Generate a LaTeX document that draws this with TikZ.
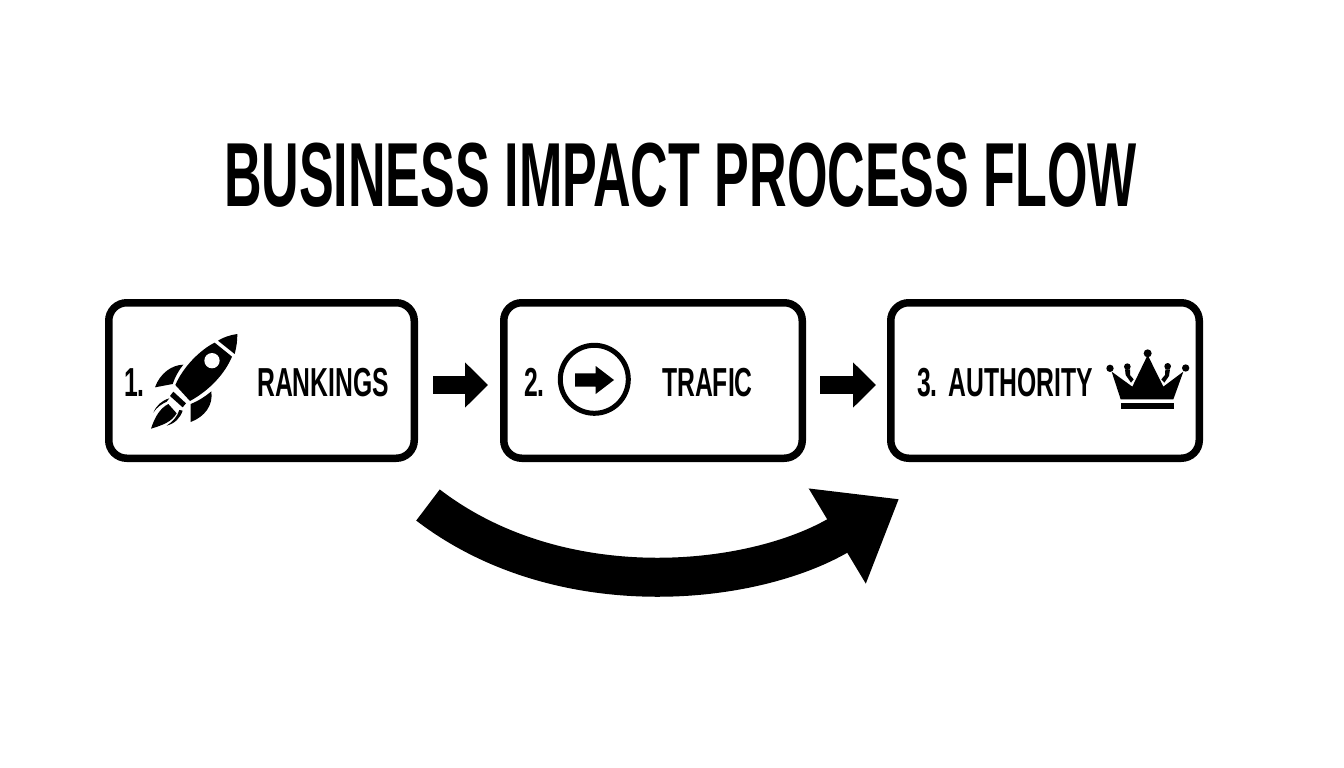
\documentclass[tikz,border=0pt]{standalone}
\usepackage{fontspec}
\usetikzlibrary{arrows.meta}
\newfontfamily\titrefont[FakeStretch=0.572]{Liberation Sans}
\newfontfamily\boitefont[FakeStretch=0.61]{Liberation Sans}
\tikzset{
  boite/.style={draw, line width=7.5pt, rounded corners=18pt, minimum height=155.5pt, inner sep=0pt},
  fleche/.style={line width=18pt, -{Triangle[length=23pt,width=44pt]}},
  etiquette/.style={anchor=base west, inner sep=0pt, font=\boitefont\bfseries\fontsize{40.5}{40.5}\selectfont},
}
\begin{document}
\begin{tikzpicture}[x=1pt,y=-1pt]
      \useasboundingbox (0,0) rectangle (1344,768);

      \node[anchor=base, inner sep=0pt, font=\titrefont\bfseries\fontsize{91}{91}\selectfont] (titre) at (680.5,206) {BUSINESS IMPACT PROCESS FLOW};

      %boites
      \node[boite, minimum width=305.5pt] (rankings) at (261.5,380.5) {};
      \node[boite, minimum width=298.5pt] (trafic) at (653,380.5) {};
      \node[boite, minimum width=308.5pt] (authority) at (1045,380.5) {};

      %fleches
      \draw[fleche, shorten <=15pt, shorten >=12pt] ([yshift=-4.5pt]rankings.east) -- ([yshift=-4.5pt]trafic.west);
      \draw[fleche, shorten <=14pt, shorten >=11pt] ([yshift=-4.5pt]trafic.east) -- ([yshift=-4.5pt]authority.west);

      %grande fleche
      \coordinate (debut) at (428,505);
      \coordinate (fin) at (899,499);
      \draw[line width=39pt, -{Triangle[length=72pt,width=106pt]}] (debut) .. controls (561,607) and (754,586) .. (fin);

      %textes
      \node[etiquette] (un) at (124,396) {1.};
      \node[etiquette] (rk) at (257,396) {RANKINGS};
      \node[etiquette] (deux) at (524,396) {2.};
      \node[etiquette] (tr) at (662,396) {TRAFIC};
      \node[etiquette] (au) at (917,396) {3.\hspace{2pt} AUTHORITY};

      %fusee
      \begin{scope}[shift={(100,290)}, scale=1/3]
        \fill (412,132) .. controls (390,135) and (370,142) .. (354,152) -- (404,192) .. controls (410,170) and (412,150) .. (412,132);
        \fill (344,158) .. controls (300,180) and (250,230) .. (226,285) -- (270,333) .. controls (330,300) and (375,250) .. (396,200) -- cycle;
        \fill[white] (336,212) circle (23);
        \fill (250,224) .. controls (215,225) and (180,250) .. (165,292) -- (218,282) .. controls (225,262) and (235,242) .. (250,224);
        \fill (334,304) .. controls (315,320) and (295,333) .. (272,342) -- (272,396) .. controls (315,380) and (340,345) .. (334,304);
        \fill (220,305) -- (258,340) -- (248,352) -- (210,318) -- cycle;
        \fill (153,416) .. controls (165,380) and (180,355) .. (205,342) -- (230,370) .. controls (215,395) and (190,405) .. (153,416);
        \fill (160,368) .. controls (170,345) and (185,332) .. (208,325) -- (200,335) .. controls (185,342) and (170,352) .. (160,368);
        \fill (200,407) .. controls (225,400) and (240,385) .. (248,362) -- (238,360) .. controls (232,380) and (218,395) .. (200,407);
      \end{scope}

      %cercle
      \draw[line width=5pt] (594.3,379.3) circle (34);
      \fill (575,373.3) -- (595.7,373.3) -- (595.7,366) -- (614,380) -- (595.7,394) -- (595.7,386.7) -- (575,386.7) -- cycle;

      %couronne
      \begin{scope}[shift={(880,290)}, scale=1/3]
        \fill (722,340) rectangle (883,357);
        \fill (695,245) -- (757,290) -- (803,195) -- (850,290) -- (910,245) -- (880,328) -- (722,328) -- cycle;
        \fill (690,235) circle (11);
        \fill (803,190) circle (12);
        \fill (917,234) circle (11);
        \fill (742,230) circle (10);
        \fill (863,229) circle (10);
        \fill (735,238) -- (750,238) -- (750,255) -- (761,268) -- (753,278) -- (737,255) -- cycle;
        \fill (856,238) -- (870,238) -- (867,258) -- (853,278) -- (844,268) -- (855,255) -- cycle;
      \end{scope}
    \end{tikzpicture}
\end{document}
